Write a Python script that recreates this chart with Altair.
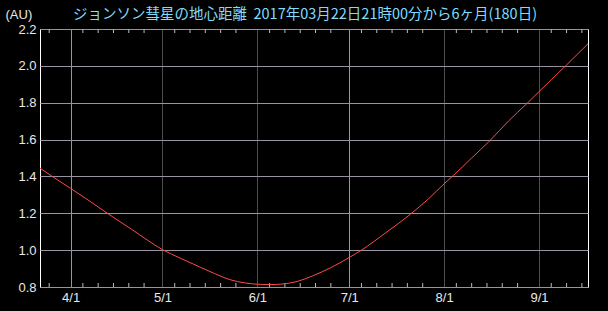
import altair as alt
import pandas as pd

# ---- data ----
dates = ["2017-03-22", "2017-03-26", "2017-04-01", "2017-04-06", "2017-04-13",
         "2017-04-21", "2017-05-01", "2017-05-07", "2017-05-13", "2017-05-18",
         "2017-05-23", "2017-05-28", "2017-06-01", "2017-06-05", "2017-06-09",
         "2017-06-14", "2017-06-19", "2017-06-25", "2017-07-01", "2017-07-05",
         "2017-07-13", "2017-07-21", "2017-07-27", "2017-08-01", "2017-08-04",
         "2017-08-10", "2017-08-16", "2017-08-22", "2017-08-28", "2017-09-01",
         "2017-09-05", "2017-09-10", "2017-09-17"]
distance_au = [1.445, 1.40, 1.335, 1.28, 1.20,
               1.112, 1.003, 0.955, 0.91, 0.873,
               0.84, 0.822, 0.815, 0.813, 0.816,
               0.83, 0.86, 0.905, 0.96, 1.00,
               1.095, 1.195, 1.28, 1.36, 1.405,
               1.50, 1.595, 1.70, 1.795, 1.86,
               1.925, 2.005, 2.12]

month_ticks = [(4, 1), (5, 1), (6, 1), (7, 1), (8, 1), (9, 1)]
minor_tick_dates = ["2017-03-25",
                    "2017-04-05", "2017-04-10", "2017-04-15", "2017-04-20", "2017-04-25",
                    "2017-05-05", "2017-05-10", "2017-05-15", "2017-05-20", "2017-05-25",
                    "2017-06-05", "2017-06-10", "2017-06-15", "2017-06-20", "2017-06-25",
                    "2017-07-05", "2017-07-10", "2017-07-15", "2017-07-20", "2017-07-25",
                    "2017-08-05", "2017-08-10", "2017-08-15", "2017-08-20", "2017-08-25",
                    "2017-09-05", "2017-09-10", "2017-09-15"]
y_ticks = [0.8, 1.0, 1.2, 1.4, 1.6, 1.8, 2.0, 2.2]

title_text = "ジョンソン彗星の地心距離\u00a0\u00a02017年03月22日21時00分から6ヶ月(180日)"
unit_text = "(AU)"

# ---- tables ----
df = pd.DataFrame({"date": pd.to_datetime(dates), "au": distance_au})
minor_df = pd.DataFrame({"date": pd.to_datetime(minor_tick_dates)})
title_df = pd.DataFrame({"t": [title_text]})

W, H = 548, 258
LABEL_FONT = "Liberation Sans"

x_scale = alt.Scale(domain=[alt.DateTime(year=2017, month=3, date=22),
                            alt.DateTime(year=2017, month=9, date=17)], nice=False)
y_scale = alt.Scale(domain=[0.8, 2.2], nice=False, zero=False)

x_axis = alt.Axis(
    values=[alt.DateTime(year=2017, month=m, date=d) for m, d in month_ticks],
    format="%-m/%-d", title=None, grid=True, ticks=False, domain=False,
    labelColor="#e8e8e8", labelFont=LABEL_FONT, labelFontSize=13, labelPadding=4,
    gridColor={"condition": {"test": "month(datum.value) == 3 || month(datum.value) == 6",
                             "value": "#9a92a2"}, "value": "#4e4e4e"},
    gridWidth=1, labelFlush=False)

y_axis = alt.Axis(
    values=y_ticks, format=".1f", title=unit_text, grid=True, ticks=False, domain=False,
    gridColor="#9a92a2", gridWidth=1,
    labelColor="#e8e8e8", labelFont=LABEL_FONT, labelFontSize=13, labelPadding=4,
    titleAngle=0, titleAlign="left", titleBaseline="middle", titleX=-35, titleY=-15,
    titleColor="#e8e8e8", titleFont=LABEL_FONT, titleFontSize=13, titleFontWeight="normal")

line = alt.Chart(df).mark_line(color="#ff4a4a", strokeWidth=1, interpolate="monotone").encode(
    x=alt.X("date:T", scale=x_scale, axis=x_axis),
    y=alt.Y("au:Q", scale=y_scale, axis=y_axis),
)

ticks_bottom = alt.Chart(minor_df).mark_rule(color="#bbbbbb", strokeWidth=1).encode(
    x=alt.X("date:T", scale=x_scale), y=alt.value(H - 4), y2=alt.value(H))
ticks_top = alt.Chart(minor_df).mark_rule(color="#bbbbbb", strokeWidth=1).encode(
    x=alt.X("date:T", scale=x_scale), y=alt.value(0), y2=alt.value(4))

title_mark = alt.Chart(title_df).mark_text(
    align="left", baseline="middle", color="#7fdcff", font="Noto Sans CJK JP",
    fontSize=14.5, fontWeight="normal").encode(
    text="t:N", x=alt.value(33), y=alt.value(-14))

chart = alt.layer(ticks_bottom, ticks_top, line, title_mark).properties(
    width=W, height=H,
    background="black",
    autosize=alt.AutoSizeParams(type="none"),
    padding={"left": 40, "top": 29, "right": 20, "bottom": 24},
).configure_view(stroke="#ffffff", strokeWidth=1)

chart.save("out.html", embed_options={"renderer": "svg", "actions": False})
